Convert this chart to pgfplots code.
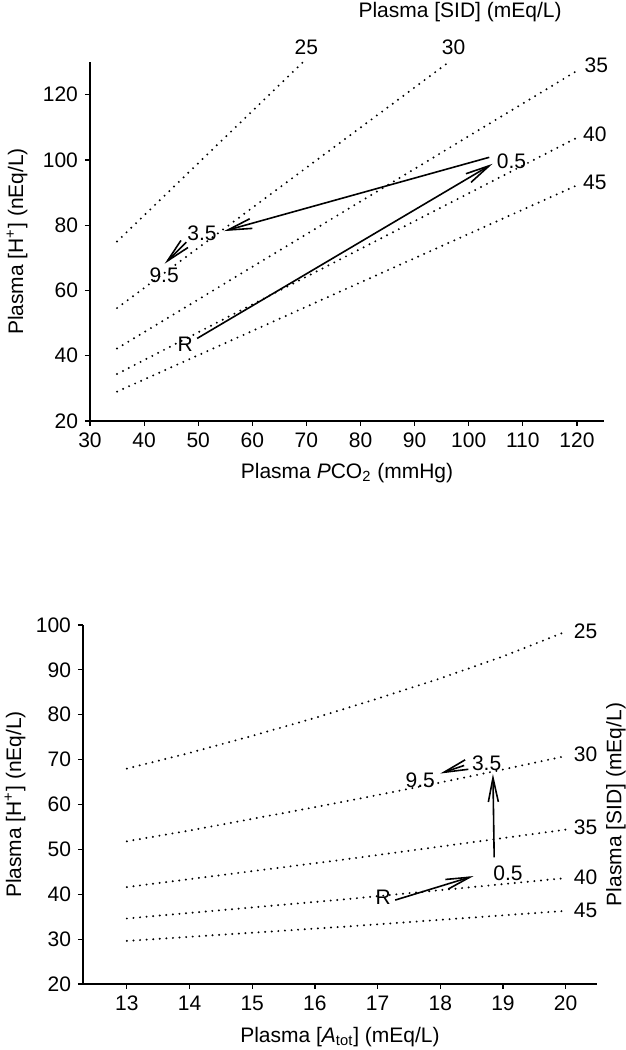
\documentclass[border=0pt]{standalone}
\usepackage{fontspec}
\setmainfont{Liberation Sans}
\usepackage{pgfplots}
\pgfplotsset{compat=1.18}
\usetikzlibrary{arrows.meta}

\begin{document}
\begin{tikzpicture}[font=\fontsize{10.5}{12.5}\selectfont]
\path[use as bounding box] (0,0) rectangle (313pt,525pt);
\pgfplotsset{
  every axis/.append style={
    scale only axis, width=257pt, height=179.5pt,
    axis lines*=left, tick align=outside, major tick length=2.5pt,
    /pgf/number format/assume math mode=true,
    tick style={black, line width=0.6pt}, axis line style={line width=0.6pt},
    clip=false, anchor=south west,
    tick label style={font=\fontsize{10.5}{12.5}\selectfont},
    label style={font=\fontsize{10.5}{12.5}\selectfont},
  },
  sid/.style={black, line width=1.1pt, line cap=round, dash pattern=on 0pt off 3.3pt},
  arr/.style={black, line width=0.8pt, -{Straight Barb[length=12pt,width=5pt]}},
}
% ---------------- top panel ----------------
\begin{axis}[
  at={(45pt,314.5pt)},
  xmin=30, xmax=125, ymin=20, ymax=130,
  xtick={30,40,...,120}, ytick={20,40,...,120},
  xlabel={Plasma \textit{P}CO\textsubscript{2} (mmHg)},
  ylabel={Plasma [H\textsuperscript{+}] (nEq/L)},
  xlabel style={at={(axis description cs:0.5,-0.145)}, anchor=center},
  ylabel style={at={(axis description cs:-0.142,0.5)}, anchor=center},
]
\addplot[sid] coordinates {(35,75) (69.4,130)};
\addplot[sid] coordinates {(35,54.6) (96.1,129.7)};
\addplot[sid] coordinates {(35,42.2) (120,127.3)};
\addplot[sid] coordinates {(35,34.4) (120,106.8)};
\addplot[sid] coordinates {(35,29) (120,92.2)};
\addplot[arr] coordinates {(49.8,45.3) (104.4,98.8)};
\addplot[arr] coordinates {(103.8,100.8) (54.8,78.2)};
\addplot[arr] coordinates {(47.8,74.8) (43.8,68.2)};
\node at (axis cs:47.6,43.5) {R};
\node at (axis cs:50.7,77.4) {3.5};
\node at (axis cs:43.7,64.6) {9.5};
\node at (axis cs:107.9,99.5) {0.5};
\node at (axis cs:70.0,134.5) {25};
\node at (axis cs:97.2,134.5) {30};
\node at (axis cs:123.6,128.9) {35};
\node at (axis cs:123.3,108) {40};
\node at (axis cs:123.3,93.2) {45};
\node at (axis description cs:0.72,1.139) {Plasma [SID] (mEq/L)};
\end{axis}
% ---------------- bottom panel ----------------
\begin{axis}[
  at={(41.5pt,33pt)},
  xmin=12.3, xmax=20.5, ymin=20, ymax=100,
  xtick={13,...,20}, ytick={20,30,...,100},
  xlabel={Plasma [\textit{A}\textsubscript{tot}] (mEq/L)},
  ylabel={Plasma [H\textsuperscript{+}] (nEq/L)},
  xlabel style={at={(axis description cs:0.5,-0.148)}, anchor=center},
  ylabel style={at={(axis description cs:-0.132,0.5)}, anchor=center},
]
\addplot[sid] coordinates {(13,68) (14,71.5) (15,75.3) (16,79.3) (17,83.6) (18,88.1) (19,93) (20,98.5)};
\addplot[sid] coordinates {(13,51.8) (14,54.2) (15,56.8) (16,59.4) (17,62.1) (18,64.9) (19,67.8) (20,70.8)};
\addplot[sid] coordinates {(13,41.6) (16.5,47.8) (20,54.4)};
\addplot[sid] coordinates {(13,34.6) (16.5,38.9) (20,43.6)};
\addplot[sid] coordinates {(13,29.6) (16.5,32.8) (20,36.3)};
\addplot[arr] coordinates {(17.28,38.7) (18.53,44.05)};
\addplot[arr] coordinates {(18.86,48.2) (18.84,66.8)};
\addplot[arr] coordinates {(18.38,68.7) (18.0,66.9)};
\node at (axis cs:17.09,39.4) {R};
\node at (axis cs:19.08,44.6) {0.5};
\node at (axis cs:18.74,69.2) {3.5};
\node at (axis cs:17.68,65.5) {9.5};
\node[anchor=west] at (axis cs:20.02,98.7) {25};
\node[anchor=west] at (axis cs:20.02,71.2) {30};
\node[anchor=west] at (axis cs:20.02,55) {35};
\node[anchor=west] at (axis cs:20.02,43.8) {40};
\node[anchor=west] at (axis cs:20.02,36.5) {45};
\node[rotate=90] at (axis description cs:1.037,0.5) {Plasma [SID] (mEq/L)};
\end{axis}
\end{tikzpicture}
\end{document}
